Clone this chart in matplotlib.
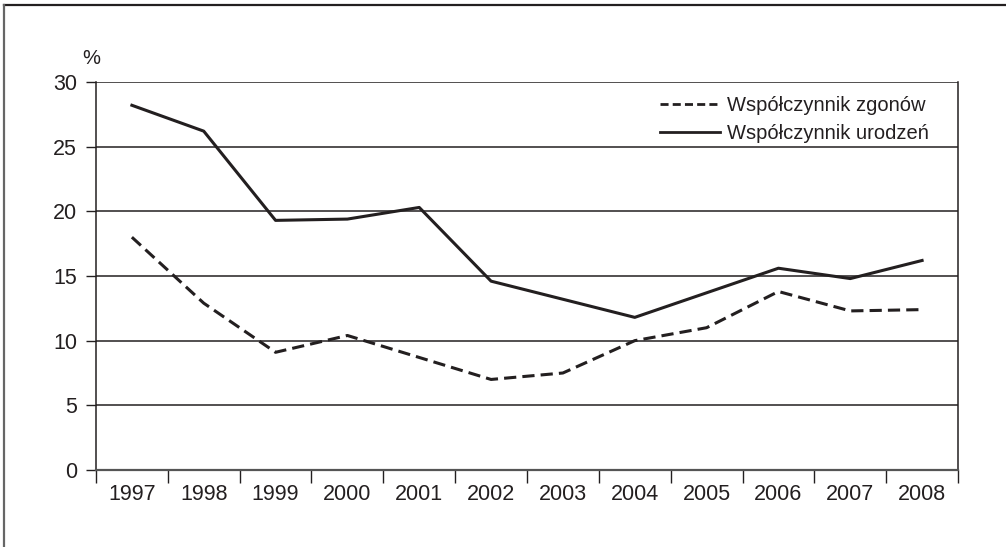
import numpy as np
import matplotlib
matplotlib.use('Agg')
import matplotlib.pyplot as plt
from matplotlib.lines import Line2D
from matplotlib.ticker import FixedLocator, NullFormatter

plt.rcParams['font.family'] = ['Liberation Sans', 'DejaVu Sans']

years = ['1997', '1998', '1999', '2000', '2001', '2002',
         '2003', '2004', '2005', '2006', '2007', '2008']
# urodzenia i zgony, w %
births = [28.2, 26.2, 19.3, 19.4, 20.3, 14.6, 13.2, 11.8, 13.7, 15.6, 14.8, 16.2]
deaths = [18.0, 12.9, 9.1, 10.4, 8.7, 7.0, 7.5, 10.0, 11.0, 13.8, 12.3, 12.4]
y_ticks = [0, 5, 10, 15, 20, 25, 30]
labels = ['Współczynnik zgonów', 'Współczynnik urodzeń']

ink = '#231f20'

fig = plt.figure(figsize=(10.06, 5.47), dpi=100)
ax = fig.add_axes([0.0954, 0.1408, 0.8569, 0.7093])

x = np.arange(len(years))
ax.plot(x, deaths, color=ink, lw=2.2, dashes=(4, 2))
ax.plot(x, births, color=ink, lw=2.2)

ax.set_xlim(-0.5, len(years) - 0.5)
ax.set_ylim(0, 30)

# ticks on category boundaries, labels in the middle
ax.xaxis.set_major_locator(FixedLocator(np.arange(-0.5, len(years))))
ax.xaxis.set_major_formatter(NullFormatter())
ax.xaxis.set_minor_locator(FixedLocator(x))
ax.set_xticklabels(years, minor=True)
ax.tick_params(axis='x', which='major', direction='out', length=9.0, width=1.0, color=ink)
ax.tick_params(axis='x', which='minor', length=0, pad=10, labelsize=15.5, labelcolor=ink)

ax.set_yticks(y_ticks)
ax.tick_params(axis='y', direction='out', length=7.5, width=1.0, color=ink,
               pad=6, labelsize=15.5, labelcolor=ink)
ax.yaxis.grid(True, color=ink, lw=1.1)
ax.set_axisbelow(True)

ax.spines['top'].set_visible(False)
ax.spines['left'].set_color(ink)
ax.spines['left'].set_linewidth(1.1)
ax.spines['right'].set_color(ink)
ax.spines['right'].set_linewidth(1.1)
ax.spines['bottom'].set_color('#555555')
ax.spines['bottom'].set_linewidth(1.6)

ax.text(-0.006, 1.035, '%', transform=ax.transAxes, ha='center', va='bottom',
        fontsize=14.5, color=ink)

# legend handles with a shorter dash pattern
handles = [Line2D([], [], color=ink, lw=2.0, dashes=(2.9, 1.5)),
           Line2D([], [], color=ink, lw=2.0)]
leg = ax.legend(handles, labels, loc='upper right', bbox_to_anchor=(0.975, 0.985),
                frameon=False, fontsize=14.5, handlelength=3.0, handletextpad=0.3,
                labelspacing=0.45, borderaxespad=0.0)
for t in leg.get_texts():
    t.set_color(ink)

# frame lines around the figure
fig.add_artist(Line2D([0.0035, 1.0], [0.991, 0.991], transform=fig.transFigure,
                      color=ink, lw=1.6))
fig.add_artist(Line2D([0.0035, 0.0035], [0.0, 0.991], transform=fig.transFigure,
                      color='#666666', lw=1.6))

fig.savefig('out.png', dpi=100)
